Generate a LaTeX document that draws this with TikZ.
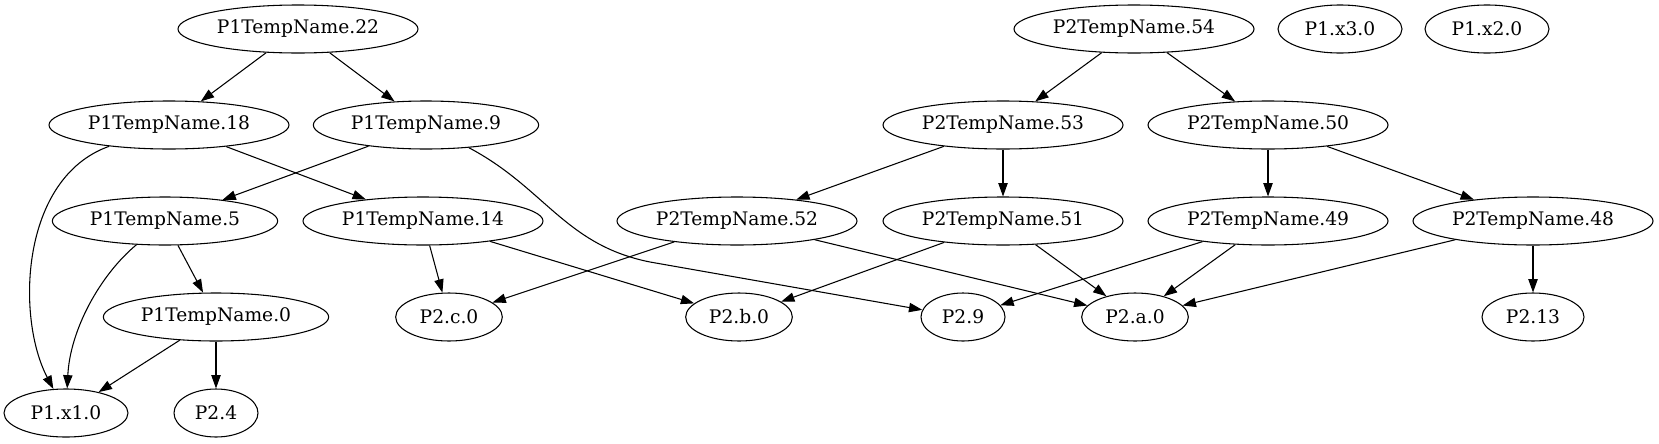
\documentclass[tikz,border=0pt]{standalone}
\usepackage{fontspec}
\setmainfont{DejaVu Serif}
\usetikzlibrary{arrows.meta,shapes.geometric}
\tikzset{
  gnode/.style={ellipse,draw,line width=0.8pt,inner sep=1pt,minimum height=36pt,
    font=\fontsize{14pt}{16pt}\selectfont},
  gedge/.style={-{Triangle[length=10pt,width=7pt]},line width=0.8pt}
}

\begin{document}
\begin{tikzpicture}[x=0.75pt,y=-0.75pt]
    \useasboundingbox (0,0) rectangle (1659,443);
    % nodes: name/x/y/width/label
    \foreach \n/\x/\y/\w/\lbl in {
      t22/298/29/180/P1TempName.22,
      t18/169/125/180/P1TempName.18,
      t9/426/125/169/P1TempName.9,
      t5/165/221/169/P1TempName.5,
      t14/423/221/180/P1TempName.14,
      t0/216/317/169/P1TempName.0,
      x1/66/413/93/P1.x1.0,
      p24/216/413/63/P2.4,
      c0/449/317/80/P2.c.0,
      b0/739/317/80/P2.b.0,
      p29/963/317/63/P2.9,
      a0/1135/317/80/P2.a.0,
      p213/1533/317/76.5/P2.13,
      t54/1134/29/180/P2TempName.54,
      x3/1340/29/93/P1.x3.0,
      x2/1487/29/93/P1.x2.0,
      t53/1003/125/180/P2TempName.53,
      t50/1268/125/180/P2TempName.50,
      t52/737/221/180/P2TempName.52,
      t51/1003/221/180/P2TempName.51,
      t49/1268/221/180/P2TempName.49,
      t48/1533/221/180/P2TempName.48}
    {
      \node[gnode,minimum width=\w pt] (\n) at (\x,\y) {\lbl};
    }
    % straight edges
    \foreach \a/\b in {t22/t18,t22/t9,t18/t14,t9/t5,t5/t0,t0/x1,t0/p24,t14/c0,t14/b0,
      t54/t53,t54/t50,t53/t52,t53/t51,t50/t49,t50/t48,t52/c0,t52/a0,t51/b0,t51/a0,
      t49/p29,t49/a0,t48/a0,t48/p213}
    {
      \draw[gedge] (\a) -- (\b);
    }
    % curved edges
    \draw[gedge] (t18) .. controls (20,178) and (16,318) .. (x1);
    \draw[gedge] (t5) .. controls (100,275) and (70,330) .. (x1);
    \draw[gedge] (t9) .. controls (545,188) and (565,245) .. (650,262) -- (p29);
  \end{tikzpicture}
\end{document}
